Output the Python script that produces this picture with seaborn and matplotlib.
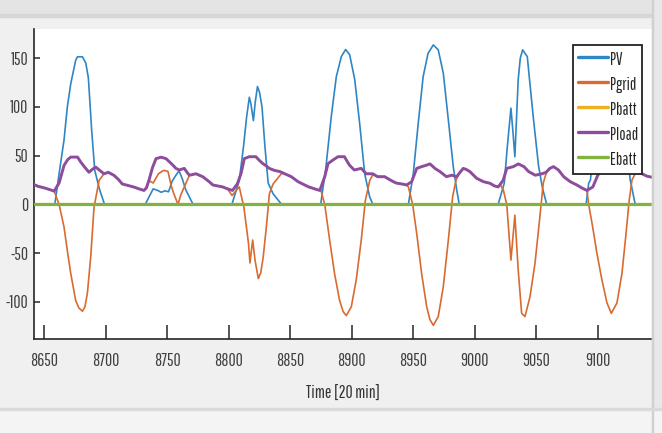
import numpy as np
import pandas as pd
import matplotlib
matplotlib.use("Agg")
import matplotlib.pyplot as plt
import seaborn as sns
from matplotlib.lines import Line2D
from matplotlib.patches import Rectangle

# ---------------- data ----------------
pv_t = [8641.5, 8658.5, 8662, 8666, 8668.7, 8671.5, 8675.5, 8677, 8681, 8683.7, 8685.8, 8688.5, 8691, 8695, 8699,
        8732, 8738.5, 8742, 8745, 8748, 8751, 8754, 8757, 8759.5, 8762, 8765, 8771,
        8802.5, 8808.5, 8812, 8814.5, 8816.7, 8818, 8820, 8821.5, 8823.3, 8825, 8827, 8829.4, 8832, 8836, 8843,
        8874.7, 8879, 8883.3, 8887.4, 8891.5, 8895, 8898.3, 8902.4, 8906.4, 8910.5, 8914.6, 8917.2,
        8946, 8950, 8954, 8958, 8962, 8966.3, 8970.3, 8974.4, 8978.5, 8982.5, 8985.3, 8987.4,
        9019, 9024, 9026.5, 9029.4, 9031, 9032.6, 9035.3, 9037, 9038.9, 9042.7, 9044, 9047.7, 9051.8, 9055, 9058.5,
        9090.5, 9092.6, 9094, 9100, 9106, 9111, 9116, 9122, 9126.4, 9130.5, 9144]
pv_v = [0, 0, 31.5, 66, 100, 124, 148, 151.5, 151.5, 145, 130, 76, 35, 15, 0,
        0, 16, 14.5, 12.5, 14, 13, 24, 30, 34.5, 27, 15, 0,
        0, 24.6, 60, 90, 110, 103, 86, 105, 121, 115, 100, 59, 22, 11, 0,
        0, 38.7, 90, 131, 151.7, 159, 153.5, 128, 83, 31.5, 7.5, 0,
        0, 31.5, 83, 131, 155, 163.7, 158.6, 134.7, 86.8, 38.8, 14.9, 0,
        0, 22, 60, 98.8, 75, 49, 128, 150, 158.6, 151.7, 134.7, 88, 40, 17, 0,
        0, 21.7, 25, 90, 135, 147, 135, 80, 25, 0, 0]

pload_t = [8641.5, 8645, 8650, 8655, 8658, 8662, 8666, 8669, 8671.5, 8677, 8679.6, 8683, 8686.3, 8689, 8691.8, 8695,
           8698.5, 8702, 8706.7, 8710, 8713.4, 8718, 8723, 8727, 8731, 8733, 8735, 8738, 8740.8, 8745, 8749, 8751.5,
           8754.4, 8757, 8759.8, 8763.8, 8766, 8768, 8773.3, 8778.8, 8784, 8787, 8791, 8795, 8799, 8803, 8807, 8810,
           8812.6, 8816.7, 8822, 8825, 8827.6, 8830, 8833, 8837, 8841.6, 8845.5, 8850.8, 8856.3, 8861.7, 8865, 8869.8,
           8874, 8878, 8880.7, 8884.7, 8888.8, 8894, 8898, 8902, 8907.7, 8911.8, 8917, 8921, 8926.7, 8932, 8936,
           8940.8, 8944.6, 8948.7, 8952.8, 8956.8, 8960, 8963.6, 8967.6, 8971.7, 8977, 8981.2, 8985.3, 8988, 8990.6,
           8993, 8996, 9001.5, 9007, 9012.4, 9016, 9019, 9023, 9026, 9031.3, 9035.4, 9040, 9043.8, 9049.2, 9054.6,
           9058, 9061, 9064, 9068, 9072.3, 9077.6, 9083, 9087, 9091.2, 9096, 9100, 9105, 9112, 9120, 9128, 9136,
           9140, 9144]
pload_v = [20.5, 18.5, 17, 15, 13.7, 22, 40, 46, 48.6, 48.6, 43.5, 38, 33, 36, 38.3, 35,
           31.5, 33, 29.8, 26, 21, 19.5, 17.8, 16, 14.4, 17, 24.6, 38, 47, 48.5, 47, 44,
           40.5, 37, 35.4, 37, 33, 30, 31.5, 28.5, 23.4, 20, 19, 18, 16, 14.4, 21.3, 32,
           47, 49, 49, 45, 42, 40, 37, 35, 33.7, 31.5, 28.5, 23.4, 20, 18, 16,
           14.4, 28.5, 42, 45.6, 49, 49, 40.5, 35.4, 37, 31.5, 31.5, 28.5, 28.5, 24.6, 22,
           21, 20, 23.4, 37, 38.8, 40, 41.6, 37, 33.7, 28.5, 30, 28.5, 33, 37,
           36, 33.7, 26.9, 23.4, 21.7, 19, 18, 24.6, 37, 38.8, 41.6, 38.8, 33.7, 30, 31.5,
           33, 37, 38.8, 35.4, 28.5, 23.4, 20, 17, 14.4, 18, 30, 38, 40, 36, 34, 31.5,
           29, 28]

pgrid_t = [8641.5, 8650, 8658, 8662, 8666, 8669, 8671.5, 8675.5, 8678, 8681, 8683, 8685, 8687.7, 8690.4, 8694.5,
           8698.5, 8702, 8706.7, 8710, 8713.4, 8718, 8723, 8727, 8731, 8733, 8735, 8738.5, 8742.8, 8747, 8750.5,
           8753, 8755, 8758.7, 8761, 8763.8, 8768, 8772.5, 8778.8, 8784, 8787, 8791, 8795, 8799, 8802.6, 8808.5,
           8812.3, 8816, 8817.2, 8819.4, 8821.3, 8824, 8826, 8828, 8830.8, 8833, 8836, 8843, 8845.5, 8850.8, 8856.3,
           8861.7, 8865, 8869.8, 8874, 8875, 8878, 8882, 8886, 8890, 8893, 8895.5, 8899.6, 8903.6, 8907.7, 8911,
           8914.6, 8917.2, 8921, 8926.7, 8932, 8936, 8940.8, 8944.6, 8946, 8949.5, 8952.8, 8956.8, 8960.9, 8963.5,
           8966.3, 8970.3, 8974.4, 8978.5, 8982, 8984.7, 8986, 8988, 8990.6, 8993, 8996, 9001.5, 9007, 9012.4, 9016,
           9019, 9021, 9023.2, 9026, 9029.4, 9032.6, 9035.3, 9038.1, 9040.8, 9044.9, 9049, 9052.4, 9055.7, 9058.5,
           9061, 9064, 9068, 9072.3, 9077.6, 9083, 9087, 9091.2, 9092.6, 9095.3, 9096.7, 9099.3, 9103.4, 9107.5,
           9111, 9115.6, 9119.7, 9123, 9125.6, 9127.8, 9131, 9136, 9140, 9144]
pgrid_v = [20.5, 17, 13.7, 0, -23, -50, -71, -98.5, -106, -109.5, -105, -91, -54, -3, 24.6,
           31.5, 33, 29.8, 26, 21, 19.5, 17.8, 16, 14.4, 17, 24.6, 22, 31.5, 35, 34,
           20, 12, 0, 10, 18, 30, 31.5, 28.5, 23.4, 20, 19, 18, 16, 9.2, 18,
           -3, -40, -60, -36.5, -57, -76, -70, -53.6, -19.7, 11, 21, 32, 31.5, 28.5, 23.4,
           20, 18, 16, 14.4, 14, 0, -36.5, -71, -98, -110, -114, -105, -77.5, -36.5, 4,
           24.6, 31, 28.5, 28.5, 24.6, 22, 21, 20, 18, 0, -30, -71, -105, -118,
           -124, -115, -84.4, -36.5, 8, 24.6, 29, 33, 37, 36, 33.7, 26.9, 23.4, 21.7, 19,
           18, 20, 14.9, 0, -57, -11, -67, -111.7, -115, -94.7, -60, -19, 22, 34,
           37, 38.8, 35.4, 28.5, 23.4, 20, 17, 14.4, 0, -19, -29.6, -50, -77.5, -101,
           -111.7, -101, -70.6, -29.6, 4.6, 25, 33, 31.5, 29, 28]

pbatt_t = [8641.5, 9144]
pbatt_v = [0, 0]
ebatt_t = [8641.5, 9144]
ebatt_v = [0, 0]

series_names = ["PV", "Pgrid", "Pbatt", "Pload", "Ebatt"]
x_ticks = [8650, 8700, 8750, 8800, 8850, 8900, 8950, 9000, 9050, 9100]
y_ticks = [-100, -50, 0, 50, 100, 150]
x_label = "Time [20 min]"

# ---------------- styling ----------------
sns.set_style("ticks")
plt.rcParams["font.family"] = ["Pathway Gothic One", "Archivo Narrow", "DejaVu Sans"]

colors = {"PV": "#2f86c4", "Pgrid": "#d96a30", "Pbatt": "#edb120", "Pload": "#8d4c9c", "Ebatt": "#82b340"}
widths = {"PV": 1.2, "Pgrid": 1.2, "Pbatt": 1.5, "Pload": 2.1, "Ebatt": 2.3}
FS = 12.5
LEG_FS = 12

W, H = 662, 433
AX_TOP, AX_BOT, AX_L, AX_R = 29, 339, 34, 652
fig = plt.figure(figsize=(W / 100, H / 100), dpi=100, facecolor="#f0f0f0")

# window chrome (screenshot borders)
fig.add_artist(Rectangle((0, 1 - 14 / H), 1, 14 / H, transform=fig.transFigure, color="#e4e4e4", zorder=0))
fig.add_artist(Rectangle((0, 1 - 17 / H), 1, 3 / H, transform=fig.transFigure, color="#d6d6d6", zorder=0))

ax = fig.add_axes([AX_L / W, (H - AX_BOT) / H, (AX_R - AX_L) / W, (AX_BOT - AX_TOP) / H])
ax.set_facecolor("white")

data = {
    "PV": (pv_t, pv_v),
    "Pgrid": (pgrid_t, pgrid_v),
    "Pbatt": (pbatt_t, pbatt_v),
    "Pload": (pload_t, pload_v),
    "Ebatt": (ebatt_t, ebatt_v),
}
for i, name in enumerate(series_names):
    t, v = data[name]
    df = pd.DataFrame({"t": t, "v": v})
    sns.lineplot(data=df, x="t", y="v", ax=ax, color=colors[name], linewidth=widths[name],
                 sort=False, estimator=None, zorder=2 + i, legend=False)

ax.set_xlim(8641.6, 9144.1)
ax.set_ylim(-138, 180)
ax.set_xticks(x_ticks)
ax.set_yticks(y_ticks)
ax.set_xticklabels([str(t) for t in x_ticks])
ax.set_yticklabels([str(t) for t in y_ticks])
ax.set_xlabel(x_label, fontsize=FS, color="#333333", labelpad=12)
ax.set_ylabel("")

for s in ["top", "right"]:
    ax.spines[s].set_visible(False)
for s in ["left", "bottom"]:
    ax.spines[s].set_color("#262626")
    ax.spines[s].set_linewidth(1.2)

ax.tick_params(axis="x", direction="in", length=10, width=1.1, pad=10, labelsize=FS,
               colors="#262626", labelcolor="#404040")
ax.tick_params(axis="y", direction="in", length=4.5, width=1.1, pad=4, labelsize=FS,
               colors="#262626", labelcolor="#404040")

handles = [Line2D([0], [0], color=colors[n], lw=2.4) for n in series_names]
leg = ax.legend(handles, series_names, loc="upper right",
                bbox_to_anchor=(642 / W, 1 - 45 / H), bbox_transform=fig.transFigure,
                borderaxespad=0, fontsize=LEG_FS, frameon=True, fancybox=False, framealpha=1,
                edgecolor="#222222", handlelength=1.8, handletextpad=0.12, labelspacing=0.32,
                handleheight=1.45, borderpad=0.25)
leg.get_frame().set_linewidth(1.3)
for txt in leg.get_texts():
    txt.set_color("#262626")
leg.set_zorder(20)

# right and bottom screenshot border strips
fig.add_artist(Rectangle((652 / W, 0), 10 / W, 1, transform=fig.transFigure, color="#e8e8e8", zorder=30))
fig.add_artist(Rectangle((652 / W, 0), 1.2 / W, 1, transform=fig.transFigure, color="#d0d0d0", zorder=31))
fig.add_artist(Rectangle((0, 0), 1, 23 / H, transform=fig.transFigure, color="#f4f4f4", zorder=30))
fig.add_artist(Rectangle((0, 23 / H), 1, 2 / H, transform=fig.transFigure, color="#dadada", zorder=31))

fig.savefig("out.png", dpi=100, facecolor=fig.get_facecolor())
